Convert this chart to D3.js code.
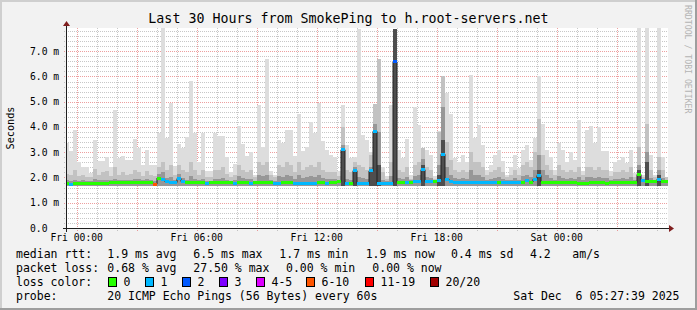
<!DOCTYPE html>
<html>
<head>
<meta charset="utf-8">
<script src="https://cdn.jsdelivr.net/npm/d3@7"></script>
<style>
body { margin: 0; background: #f2f2f2; }
text { font-family: "DejaVu Sans Mono", monospace; fill: #000; white-space: pre; }
</style>
</head>
<body>
<script>
// smokeping data, one value per 12 minute step
var pingMax = [3.36,3.03,3.89,2.63,2.43,2.43,2.17,3.49,2.66,2.66,
  2.83,2.43,4.68,2.76,2.86,2.69,2.69,3.53,3.16,2.50,
  3.10,2.50,2.50,3.78,7.93,3.58,4.96,2.46,3.33,3.16,
  3.62,5.83,3.78,2.63,3.78,2.24,2.24,3.78,3.64,3.65,
  2.80,2.20,2.53,4.02,3.33,2.87,3.00,2.10,4.87,3.20,
  6.68,2.24,2.10,3.49,3.36,3.88,3.88,2.87,4.50,3.03,
  3.20,4.18,3.78,4.96,3.44,3.10,2.90,2.80,2.24,4.89,
  3.28,2.76,2.82,7.90,3.67,3.48,3.00,4.92,6.70,2.40,
  2.05,4.87,7.90,3.08,2.78,3.52,2.10,4.81,4.07,3.18,
  3.08,2.90,2.04,3.83,6.03,5.33,4.50,2.76,2.63,2.90,
  2.63,6.06,3.58,4.08,3.30,2.30,2.50,2.90,3.10,2.66,
  2.10,2.40,2.90,2.36,3.10,3.30,2.70,3.55,6.00,4.10,
  3.10,2.80,2.30,3.38,3.10,2.63,3.00,2.70,4.28,2.24,
  3.88,4.02,3.36,3.98,3.03,3.03,2.24,2.63,2.70,2.80,
  2.56,3.10,2.17,7.93,2.10,7.93,2.90,2.10,7.93,2.83,
  2.00];
var pingUpper = [2.15,2.10,2.30,2.05,2.10,2.00,2.00,2.35,2.10,2.20,
  2.25,2.05,2.40,2.10,2.20,2.10,2.15,2.30,2.20,2.05,
  2.25,2.10,2.05,2.40,2.60,2.30,2.50,2.10,2.50,2.30,
  2.20,2.60,2.30,2.10,2.30,2.00,2.00,2.30,2.30,2.40,
  2.15,2.00,2.10,2.50,2.30,2.20,2.30,2.00,2.60,2.50,
  2.60,2.10,2.00,2.50,2.40,2.60,2.50,2.20,2.60,2.30,
  2.40,2.50,2.40,2.60,2.30,2.20,2.20,2.20,2.05,4.00,
  2.30,2.20,2.60,2.50,2.40,2.30,2.90,4.90,6.70,2.20,
  1.95,2.60,7.90,2.30,2.20,2.40,1.95,2.50,2.60,3.18,
  2.40,2.30,1.95,3.80,6.00,3.40,2.70,2.30,2.20,2.30,
  2.20,3.00,2.60,2.60,2.40,2.10,2.20,2.30,2.40,2.20,
  2.00,2.10,2.30,2.10,2.50,2.60,2.40,3.00,4.30,2.90,
  2.50,2.30,2.10,2.50,2.30,2.20,2.30,2.20,2.40,2.10,
  2.40,2.40,2.30,2.40,2.30,2.30,2.05,2.20,2.20,2.30,
  2.20,2.40,2.00,3.20,2.00,4.10,2.30,2.00,2.80,2.30,
  2.00];
var pingCore = [1.90,1.88,1.92,1.88,1.89,1.88,1.87,1.94,1.89,1.90,
  1.92,1.90,1.95,1.91,1.92,1.90,1.91,1.95,1.93,1.90,
  1.94,1.91,1.86,2.15,2.20,1.98,2.00,1.92,2.15,1.98,
  1.92,2.05,1.95,1.90,1.95,1.88,1.88,1.95,1.95,1.98,
  1.90,1.87,1.90,2.05,1.98,1.94,1.96,1.88,2.10,2.05,
  2.10,1.90,1.88,2.05,2.00,2.10,2.05,1.95,2.10,1.98,
  2.00,2.05,2.00,2.10,1.98,1.95,1.94,1.94,1.92,3.30,
  1.95,1.92,2.40,2.00,1.98,1.95,2.40,4.10,3.80,1.90,
  1.88,2.05,7.90,1.98,1.95,2.00,1.90,2.05,2.10,2.75,
  2.00,1.98,1.92,2.50,4.80,2.40,2.10,1.98,1.95,1.98,
  1.95,2.30,2.10,2.10,2.00,1.92,1.95,1.98,2.00,1.95,
  1.90,1.92,1.98,1.92,2.05,2.10,2.00,2.30,2.90,2.30,
  2.10,1.98,1.92,2.05,1.98,1.95,1.98,1.95,2.00,1.90,
  2.00,2.00,1.98,2.00,1.98,1.98,1.90,1.95,1.95,1.98,
  1.95,2.00,1.90,2.50,1.95,3.00,1.98,1.90,2.30,1.98,
  1.92];
var pingDark = [0,0,0,0,0,0,0,0,0,0,
  0,0,0,0,0,0,0,0,0,0,
  0,0,0,0,0,0,0,0,0,0,
  0,0,0,0,0,0,0,0,0,0,
  0,0,0,0,0,0,0,0,0,0,
  0,0,0,0,0,0,0,0,0,0,
  0,0,0,0,0,0,0,0,0,3.10,
  0,0,2.30,0,0,0,2.30,3.80,2.50,0,
  0,0,7.90,0,0,0,0,0,0,2.50,
  0,0,0,2.10,3.50,0,0,0,0,0,
  0,0,0,0,0,0,0,0,0,0,
  0,0,0,0,0,0,0,0,2.30,0,
  0,0,0,0,0,0,0,0,0,0,
  0,0,0,0,0,0,0,0,0,0,
  0,0,0,2.30,0,2.60,0,0,2.10,0,
  0];
var medianRtt = [1.77,1.74,1.77,1.77,1.77,1.77,1.78,1.77,1.77,1.77,
  1.78,1.79,1.80,1.80,1.80,1.80,1.80,1.80,1.80,1.80,
  1.80,1.80,1.74,1.98,1.91,1.83,1.82,1.80,1.96,1.84,
  1.79,1.79,1.79,1.79,1.79,1.78,1.79,1.79,1.79,1.79,
  1.79,1.79,1.78,1.79,1.80,1.79,1.78,1.79,1.79,1.80,
  1.79,1.79,1.78,1.78,1.79,1.79,1.80,1.78,1.78,1.78,
  1.78,1.78,1.78,1.79,1.79,1.78,1.80,1.80,1.84,3.10,
  1.75,1.76,2.27,1.76,1.77,1.76,2.26,3.83,1.77,1.76,
  1.76,1.77,6.58,1.81,1.80,1.79,1.80,1.84,1.84,2.31,
  1.84,1.85,1.85,1.90,2.92,1.93,1.86,1.82,1.81,1.81,
  1.81,1.82,1.81,1.80,1.80,1.80,1.80,1.80,1.81,1.80,
  1.80,1.80,1.80,1.80,1.82,1.87,1.82,1.93,2.08,1.82,
  1.81,1.80,1.80,1.79,1.80,1.80,1.79,1.79,1.78,1.78,
  1.78,1.79,1.79,1.79,1.79,1.78,1.79,1.79,1.79,1.79,
  1.79,1.79,1.80,2.12,1.90,1.86,1.85,1.84,1.93,1.84,
  1.83];
var lossBucket = [0,1,0,0,0,0,0,0,0,0,
  0,0,0,0,0,0,0,0,0,0,
  0,0,5,0,1,1,1,1,1,1,
  0,0,0,0,0,1,0,0,0,0,
  0,0,1,0,0,0,1,0,0,0,
  0,0,1,1,0,0,0,1,1,1,
  1,1,1,0,0,1,0,0,0,1,
  1,0,1,1,1,1,1,1,1,1,
  1,1,2,0,0,1,0,1,1,1,
  1,1,0,1,1,1,1,1,1,1,
  1,1,1,1,1,1,1,1,0,1,
  1,1,1,1,0,1,0,1,1,0,
  0,0,0,0,0,0,0,0,0,0,
  0,0,0,0,0,0,0,0,0,0,
  0,0,0,0,1,0,0,0,1,0,
  0];
var pingFloor = 1.65; // lowest ping seen in every step

var lossLabels = ["0", "1", "2", "3", "4-5", "6-10", "11-19", "20/20"];
var lossColors = ["#26ff00", "#00b8ff", "#0059ff", "#7e00ff", "#dd00ff", "#ff5500", "#ff0000", "#a10000"];
var lossBoxX = [108.5, 145.5, 182.5, 219.5, 256.5, 306.5, 365.5, 430.5];

var rttStats = [["median rtt:", 16], ["1.9 ms avg", 107.3], ["6.5 ms max", 193.3], ["1.7 ms min", 279.3],
  ["1.9 ms now", 365.7], ["0.4 ms sd", 451], ["4.2", 530], ["am/s", 572.3]];
var lossStats = [["packet loss:", 16], ["0.68 % avg", 107.3], ["27.50 % max", 193.3], ["0.00 % min", 286],
  ["0.00 % now", 372.3]];
var probeInfo = [["probe:", 16], ["20 ICMP Echo Pings (56 Bytes) every 60s", 107.3], ["Sat Dec  6 05:27:39 2025", 513.3]];

var W = 697, H = 310;
var plotL = 67, plotR = 668, plotT = 28, plotB = 228;

var startTime = new Date(2025, 11, 4, 23, 31);
var endTime = new Date(2025, 11, 6, 5, 31);
var firstStep = new Date(2025, 11, 4, 23, 25);

var xScale = d3.scaleTime().domain([startTime, endTime]).range([67, 667]);
var yScale = d3.scaleLinear().domain([0, 7.92]).range([plotB, plotT]);

var steps = pingMax.map(function(d, i) {
  return {
    start: d3.timeMinute.offset(firstStep, i * 12),
    end: d3.timeMinute.offset(firstStep, (i + 1) * 12),
    max: d, upper: pingUpper[i], core: pingCore[i], dark: pingDark[i],
    median: medianRtt[i], loss: lossBucket[i]
  };
});

var svg = d3.select("body").append("svg")
  .attr("width", W)
  .attr("height", H);

// background and 3d frame
svg.append("rect").attr("width", W).attr("height", H).attr("fill", "#f2f2f2");
svg.append("rect").attr("x", 0).attr("y", 0).attr("width", W).attr("height", 2).attr("fill", "#cfcfcf");
svg.append("rect").attr("x", 0).attr("y", 0).attr("width", 2).attr("height", H).attr("fill", "#cfcfcf");
svg.append("rect").attr("x", 0).attr("y", H - 2).attr("width", W).attr("height", 2).attr("fill", "#9e9e9e");
svg.append("rect").attr("x", W - 2).attr("y", 0).attr("width", 2).attr("height", H).attr("fill", "#9e9e9e");

svg.append("rect")
  .attr("x", plotL).attr("y", plotT)
  .attr("width", plotR - plotL).attr("height", plotB - plotT)
  .attr("fill", "#fff");

svg.append("clipPath").attr("id", "plotclip")
  .append("rect")
  .attr("x", plotL).attr("y", plotT)
  .attr("width", plotR - plotL).attr("height", plotB - plotT);

// grid
var grid = svg.append("g").attr("stroke-dasharray", "1,1").attr("stroke-width", 1);
var minorY = yScale.ticks(40).filter(function(v) { return Math.abs(v - Math.round(v)) > 0.01; });
var majorY = yScale.ticks(8).filter(function(v) { return v > 0; });
var hours = d3.timeHour.range(startTime, endTime);
var minorX = hours.filter(function(t) { return t.getHours() % 3 != 0; });
var majorX = hours.filter(function(t) { return t.getHours() % 3 == 0; });

grid.selectAll(".ymin").data(minorY).enter().append("line")
  .attr("x1", 64).attr("x2", plotR)
  .attr("y1", function(d) { return Math.round(yScale(d)) + 0.5; })
  .attr("y2", function(d) { return Math.round(yScale(d)) + 0.5; })
  .attr("stroke", "rgba(143,143,143,0.5)");
grid.selectAll(".xmin").data(minorX).enter().append("line")
  .attr("x1", function(d) { return Math.round(xScale(d)) + 0.5; })
  .attr("x2", function(d) { return Math.round(xScale(d)) + 0.5; })
  .attr("y1", plotT).attr("y2", 231)
  .attr("stroke", "rgba(143,143,143,0.5)");
grid.selectAll(".ymaj").data(majorY).enter().append("line")
  .attr("x1", 64).attr("x2", plotR)
  .attr("y1", function(d) { return Math.round(yScale(d)) + 0.5; })
  .attr("y2", function(d) { return Math.round(yScale(d)) + 0.5; })
  .attr("stroke", "rgba(222,80,80,0.55)");
grid.selectAll(".xmaj").data(majorX).enter().append("line")
  .attr("x1", function(d) { return Math.round(xScale(d)) + 0.5; })
  .attr("x2", function(d) { return Math.round(xScale(d)) + 0.5; })
  .attr("y1", plotT).attr("y2", 231)
  .attr("stroke", "rgba(222,80,80,0.55)");

// smoke
var plot = svg.append("g").attr("clip-path", "url(#plotclip)");

function smoke(key, color) {
  plot.append("g")
    .attr("shape-rendering", "crispEdges")
    .selectAll("rect")
    .data(steps.filter(function(d) { return d[key] > pingFloor; }))
    .enter().append("rect")
    .attr("x", function(d) { return xScale(d.start); })
    .attr("width", function(d) { return xScale(d.end) - xScale(d.start); })
    .attr("y", function(d) { return yScale(d[key]); })
    .attr("height", function(d) { return yScale(pingFloor) - yScale(d[key]); })
    .attr("fill", color);
}
smoke("max", "#dddddd");
smoke("upper", "#c2c2c2");
smoke("core", "#979797");
smoke("dark", "#4e4e4e");

// median line, black steps then loss coloured segments
var medianPts = [];
steps.forEach(function(d) {
  medianPts.push([xScale(d.start), yScale(d.median)]);
  medianPts.push([xScale(d.end), yScale(d.median)]);
});
plot.append("path")
  .attr("d", d3.line()(medianPts))
  .attr("fill", "none")
  .attr("stroke", "#202020")
  .attr("stroke-width", 1);

plot.append("g")
  .attr("shape-rendering", "crispEdges")
  .selectAll("rect")
  .data(steps)
  .enter().append("rect")
  .attr("x", function(d) { return xScale(d.start); })
  .attr("width", function(d) { return xScale(d.end) - xScale(d.start); })
  .attr("y", function(d) { return yScale(d.median) - 1.5; })
  .attr("height", 3)
  .attr("fill", function(d) { return lossColors[d.loss]; });

// axes
svg.append("line")
  .attr("x1", 63).attr("x2", 669)
  .attr("y1", plotB + 0.5).attr("y2", plotB + 0.5)
  .attr("stroke", "#1f1f1f");
svg.append("line")
  .attr("x1", plotL - 0.5).attr("x2", plotL - 0.5)
  .attr("y1", 232).attr("y2", 25)
  .attr("stroke", "#1f1f1f");
svg.append("path")
  .attr("d", "M669,225L674,228.5L669,232Z")
  .attr("fill", "#801f1f");
svg.append("path")
  .attr("d", "M63,26L66.5,21L70,26Z")
  .attr("fill", "#801f1f");

// axis labels
svg.selectAll(".ylab").data(yScale.ticks(8)).enter().append("text")
  .attr("x", 30)
  .attr("y", function(d) { return yScale(d) + 3.5; })
  .style("font-size", "9.7px")
  .text(function(d) { return d == 0 ? "0.0" : d3.format(".1f")(d) + " m"; });

svg.selectAll(".xlab").data(d3.timeHour.every(6).range(startTime, endTime)).enter().append("text")
  .attr("x", function(d) { return xScale(d); })
  .attr("y", 241)
  .attr("text-anchor", "middle")
  .style("font-size", "9.7px")
  .text(d3.timeFormat("%a %H:%M"));

svg.append("text")
  .attr("x", W / 2)
  .attr("y", 23)
  .attr("text-anchor", "middle")
  .style("font-size", "13.3px")
  .text("Last 30 Hours from SmokePing to h.root-servers.net");

svg.append("text")
  .attr("transform", "translate(14,128) rotate(-90)")
  .attr("text-anchor", "middle")
  .style("font-size", "10.2px")
  .text("Seconds");

svg.append("text")
  .attr("transform", "translate(684.5,5) rotate(90)")
  .style("font-size", "8.2px")
  .style("fill", "#b4b4b4")
  .text("RRDTOOL / TOBI OETIKER");

// legend
function legendRow(items, y) {
  svg.append("g").selectAll("text").data(items).enter().append("text")
    .attr("x", function(d) { return d[1]; })
    .attr("y", y)
    .style("font-size", "11.5px")
    .text(function(d) { return d[0]; });
}
legendRow(rttStats, 258.3);
legendRow(lossStats, 272);
legendRow([["loss color:", 16]], 285.7);
legendRow(probeInfo, 299.5);

var boxes = svg.append("g").selectAll("g").data(lossLabels).enter().append("g");
boxes.append("rect")
  .attr("x", function(d, i) { return lossBoxX[i]; })
  .attr("y", 277.5)
  .attr("width", 8)
  .attr("height", 9)
  .attr("fill", function(d, i) { return lossColors[i]; })
  .attr("stroke", "#000");
boxes.append("text")
  .attr("x", function(d, i) { return lossBoxX[i] + 15; })
  .attr("y", 285.7)
  .style("font-size", "11.5px")
  .text(function(d) { return d; });
</script>
</body>
</html>
